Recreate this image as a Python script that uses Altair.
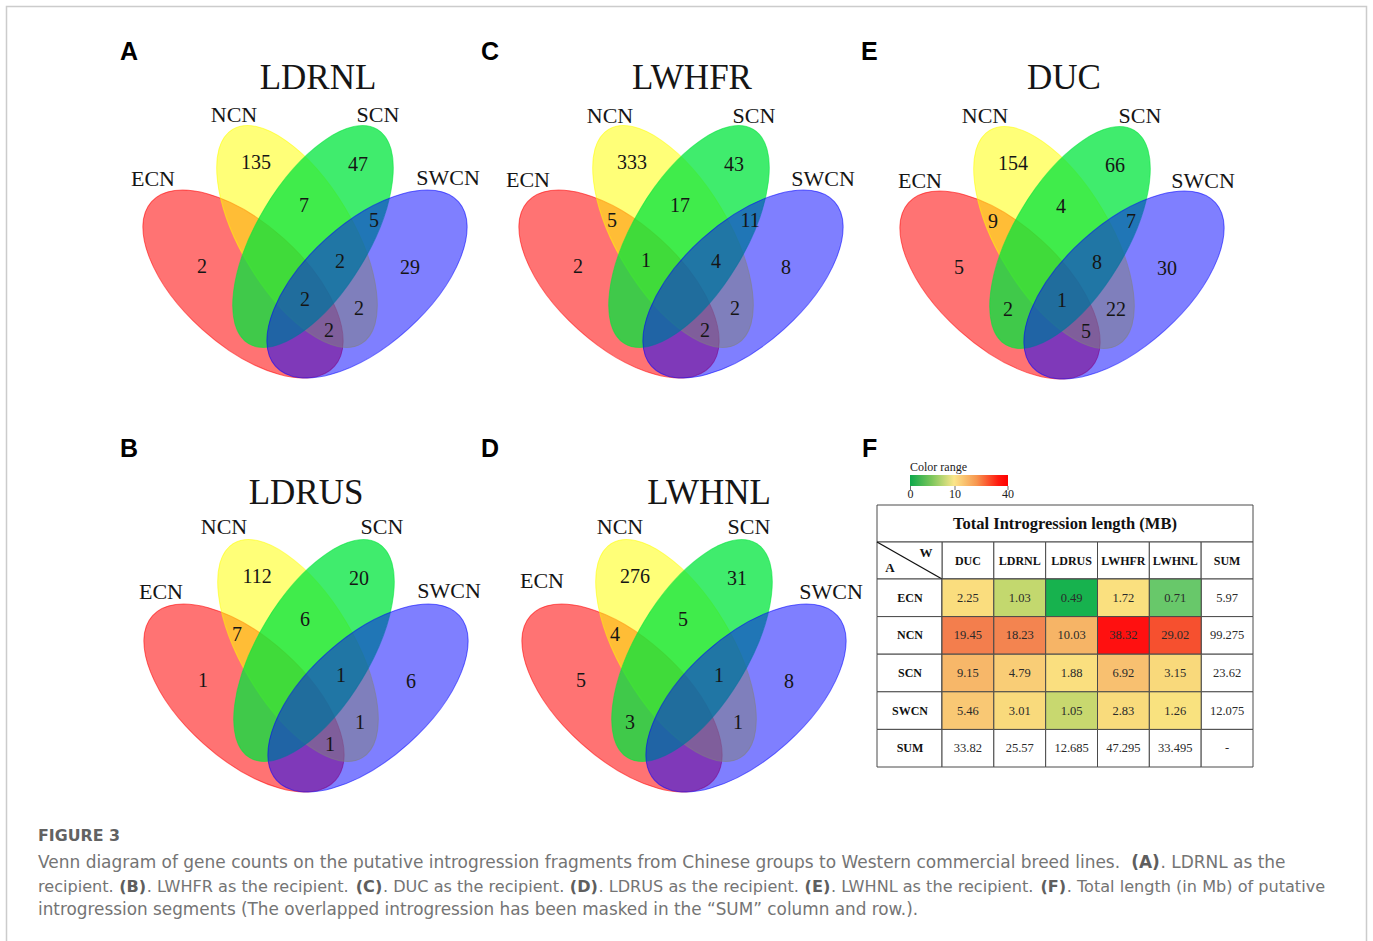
import altair as alt
import pandas as pd

W, H = 1373, 941

# ----------------------------- data -----------------------------
set_names = ["ECN", "NCN", "SCN", "SWCN"]
panel_ids = ["A", "C", "E", "B", "D"]
panel_titles = ["LDRNL", "LWHFR", "DUC", "LDRUS", "LWHNL"]

# region codes: E=ECN, N=NCN, S=SCN, W=SWCN (only the regions printed in the figure)
counts_A = {"E": 2, "N": 135, "S": 47, "W": 29, "NS": 7, "SW": 5, "NSW": 2, "ENSW": 2, "NW": 2, "ENW": 2}
counts_C = {"E": 2, "N": 333, "S": 43, "W": 8, "EN": 5, "NS": 17, "SW": 11, "ENS": 1, "NSW": 4, "NW": 2, "ENW": 2}
counts_E = {"E": 5, "N": 154, "S": 66, "W": 30, "EN": 9, "NS": 4, "SW": 7, "NSW": 8, "ES": 2, "ENSW": 1, "NW": 22, "ENW": 5}
counts_B = {"E": 1, "N": 112, "S": 20, "W": 6, "EN": 7, "NS": 6, "NSW": 1, "NW": 1, "ENW": 1}
counts_D = {"E": 5, "N": 276, "S": 31, "W": 8, "EN": 4, "NS": 5, "NSW": 1, "ES": 3, "NW": 1}
panel_counts = {"A": counts_A, "C": counts_C, "E": counts_E, "B": counts_B, "D": counts_D}

table_rows = ["ECN", "NCN", "SCN", "SWCN", "SUM"]
table_cols = ["DUC", "LDRNL", "LDRUS", "LWHFR", "LWHNL", "SUM"]
val_ECN = [2.25, 1.03, 0.49, 1.72, 0.71, 5.97]
val_NCN = [19.45, 18.23, 10.03, 38.32, 29.02, 99.275]
val_SCN = [9.15, 4.79, 1.88, 6.92, 3.15, 23.62]
val_SWCN = [5.46, 3.01, 1.05, 2.83, 1.26, 12.075]
val_SUM = [33.82, 25.57, 12.685, 47.295, 33.495, None]
table_vals = [val_ECN, val_NCN, val_SCN, val_SWCN, val_SUM]
legend_ticks = [0, 10, 40]

caption_head = "FIGURE 3"
# (text, bold) segments per caption line
caption_lines = [
    [("Venn diagram of gene counts on the putative introgression fragments from Chinese groups to Western commercial breed lines. ", False),
     ("(A)", True), (". LDRNL as the", False)],
    [("recipient. ", False), ("(B)", True), (". LWHFR as the recipient. ", False), ("(C)", True),
     (". DUC as the recipient. ", False), ("(D)", True), (". LDRUS as the recipient. ", False), ("(E)", True),
     (". LWHNL as the recipient. ", False), ("(F)", True), (". Total length (in Mb) of putative", False)],
    [("introgression segments (The overlapped introgression has been masked in the \u201cSUM\u201d column and row.).", False)],
]

# ----------------------------- layout / style -----------------------------
cap_left = 38
line_y = [867.5, 891.5, 914.5]
line_right = [1285, 1325, 923]
venn_origin = {"A": (305, 284), "C": (681, 284), "E": (1062, 285), "B": (306, 698), "D": (684, 698)}
# dx, dy, angle, shape kind
ellipse_geom = {"ECN": (-62, 0, 42, "outer"), "NCN": (-8, -47.5, 59, "inner"),
                "SCN": (8, -47.5, 301, "inner"), "SWCN": (62, 0, 318, "outer")}
set_colors = {"ECN": "#FF0000", "NCN": "#FFFF00", "SCN": "#00E63C", "SWCN": "#0000FF"}
set_alpha = {"ECN": 0.55, "NCN": 0.53, "SCN": 0.75, "SWCN": 0.5}
region_xy = {"E": (-103, -17), "N": (-49, -121), "S": (53, -119), "W": (105, -16),
             "EN": (-69, -63), "NS": (-1, -78), "SW": (69, -63), "ENS": (-35, -23),
             "NSW": (35, -22), "ES": (-54, 25), "NW": (54, 25), "ENSW": (0, 16),
             "ENW": (24, 47), "ESW": (-24, 47), "EW": (0, 76)}
set_label_xy = {"A": [(153, 179), (234, 115), (378, 115), (448, 178)],
                "C": [(528, 180), (610, 116), (754, 116), (823, 179)],
                "E": [(920, 181), (985, 116), (1140, 116), (1203, 181)],
                "B": [(161, 592), (224, 527), (382, 527), (449, 591)],
                "D": [(542, 581), (620, 527), (749, 527), (831, 592)]}
title_xy = {"A": (318, 78), "C": (692, 78), "E": (1064, 78), "B": (306, 493), "D": (709, 493)}
letter_xy = {"A": (120, 60), "C": (481, 60), "E": (861, 60), "B": (120, 457), "D": (481, 457), "F": (862, 457)}

heat_domain = [0.49, 0.71, 1.04, 1.26, 1.9, 3.0, 5.0, 7.0, 10.0, 19.0, 29.0, 38.32]
heat_range = ["#17B24E", "#68C86A", "#C6D86E", "#F9E27F", "#FADF7F", "#F9DA7C",
              "#F9CB75", "#F8C070", "#F6B466", "#F3804E", "#F6502F", "#FF1010"]

SERIF = "Liberation Serif"
CAP_FONT = "DejaVu Sans"
GRID = "#4a4a4a"

# approximate DejaVu Sans advance widths (em) used to flow the caption segments
_REG = {" ": .318, ".": .318, ",": .318, "(": .390, ")": .390, "\u201c": .521, "\u201d": .521, "-": .361,
        "a": .613, "b": .635, "c": .550, "d": .635, "e": .615, "f": .352, "g": .635, "h": .634, "i": .278,
        "j": .278, "k": .579, "l": .278, "m": .974, "n": .634, "o": .612, "p": .635, "q": .635, "r": .411,
        "s": .521, "t": .392, "u": .634, "v": .592, "w": .818, "x": .592, "y": .592, "z": .525,
        "A": .684, "B": .686, "C": .698, "D": .770, "E": .632, "F": .575, "G": .775, "H": .752, "I": .295,
        "L": .557, "M": .863, "N": .748, "R": .695, "S": .635, "T": .611, "U": .732, "V": .684, "W": .989}
_BOLD = {"(": .457, ")": .457, "A": .774, "B": .762, "C": .734, "D": .830, "E": .683, "F": .683}


def text_em(s, bold):
    tbl = _BOLD if bold else _REG
    return sum(tbl.get(ch, _REG.get(ch, 0.62) * (1.1 if bold else 1.0)) for ch in s)


def ellipse_path(a, b):
    k = 0.5523
    f = lambda v: f"{v:.4f}"
    return (f"M {f(a)} 0 C {f(a)} {f(k*b)} {f(k*a)} {f(b)} 0 {f(b)} "
            f"C {f(-k*a)} {f(b)} {f(-a)} {f(k*b)} {f(-a)} 0 "
            f"C {f(-a)} {f(-k*b)} {f(-k*a)} {f(-b)} 0 {f(-b)} "
            f"C {f(k*a)} {f(-b)} {f(a)} {f(-k*b)} {f(a)} 0 Z")


SHAPE_SCALE = 125.0
shape_paths = {"outer": ellipse_path(123 / SHAPE_SCALE, 61 / SHAPE_SCALE),
               "inner": ellipse_path(125 / SHAPE_SCALE, 56 / SHAPE_SCALE)}

XS = alt.Scale(domain=[0, W], range=[0, W], nice=False, zero=False)
YS = alt.Scale(domain=[0, H], range=[0, H], nice=False, zero=False)


def px(field):
    return alt.X(f"{field}:Q", scale=XS, axis=None)


def py(field):
    return alt.Y(f"{field}:Q", scale=YS, axis=None)


one = pd.DataFrame({"d": [0]})
layers = []

# frame
layers.append(alt.Chart(one).mark_rect(fill="white", stroke="#cccccc", strokeWidth=1.5).encode(
    x=alt.value(6.5), x2=alt.value(1366.5), y=alt.value(6.5), y2=alt.value(960)))

# ---------- Venn ellipses ----------
ell_rows = []
for pid in panel_ids:
    ox, oy = venn_origin[pid]
    for k, s in enumerate(set_names):
        dx, dy, ang, kind = ellipse_geom[s]
        ell_rows.append(dict(panel=pid, set=s, x=ox + dx, y=oy + dy, ang=ang, kind=kind, k=k))
df_ell = pd.DataFrame(ell_rows)

for s in set_names:
    kind = ellipse_geom[s][3]
    layers.append(
        alt.Chart(df_ell).transform_filter(alt.datum.set == s).mark_point(
            filled=True, shape=shape_paths[kind], size=SHAPE_SCALE ** 2 * 4,
            fillOpacity=set_alpha[s], strokeOpacity=0.55, strokeWidth=1,
        ).encode(
            x=px("x"), y=py("y"),
            fill=alt.Fill("set:N", scale=alt.Scale(domain=set_names, range=[set_colors[n] for n in set_names]), legend=None),
            stroke=alt.Stroke("set:N", scale=alt.Scale(domain=set_names, range=[set_colors[n] for n in set_names]), legend=None),
            angle=alt.Angle("ang:Q", scale=None),
        )
    )

# ---------- Venn counts ----------
cnt_rows = []
for pid in panel_ids:
    ox, oy = venn_origin[pid]
    for reg, c in panel_counts[pid].items():
        dx, dy = region_xy[reg]
        cnt_rows.append(dict(panel=pid, region=reg, count=str(c), x=ox + dx, y=oy + dy))
df_cnt = pd.DataFrame(cnt_rows)
layers.append(alt.Chart(df_cnt).mark_text(font=SERIF, fontSize=20, color="#151515", baseline="middle").encode(
    x=px("x"), y=py("y"), text="count:N"))

# set labels
lab_rows = []
for pid in panel_ids:
    for s, (x, y) in zip(set_names, set_label_xy[pid]):
        lab_rows.append(dict(panel=pid, label=s, x=x, y=y))
layers.append(alt.Chart(pd.DataFrame(lab_rows)).mark_text(font=SERIF, fontSize=22, color="#151515", baseline="middle").encode(
    x=px("x"), y=py("y"), text="label:N"))

# titles
tit_rows = [dict(panel=p, title=t, x=title_xy[p][0], y=title_xy[p][1]) for p, t in zip(panel_ids, panel_titles)]
layers.append(alt.Chart(pd.DataFrame(tit_rows)).mark_text(font=SERIF, fontSize=35, color="#151515", baseline="middle").encode(
    x=px("x"), y=py("y"), text="title:N"))

# panel letters
let_rows = [dict(letter=l, x=v[0], y=v[1]) for l, v in letter_xy.items()]
layers.append(alt.Chart(pd.DataFrame(let_rows)).mark_text(font="Liberation Sans", fontWeight="bold", fontSize=25,
                                                          color="#000000", align="left", baseline="alphabetic").encode(
    x=px("x"), y=py("y"), text="letter:N"))

# ---------- table F ----------
# colour-range legend
layers.append(alt.Chart(one).mark_text(font=SERIF, fontSize=12, color="#222", align="left", baseline="middle",
                                       text="Color range").encode(x=alt.value(910), y=alt.value(467)))
grad = alt.LinearGradient(gradient="linear", x1=0, x2=1, y1=0, y2=0, stops=[
    alt.GradientStop(offset=0, color="#0DA84A"),
    alt.GradientStop(offset=0.22, color="#7CC65C"),
    alt.GradientStop(offset=0.45, color="#FBE68A"),
    alt.GradientStop(offset=0.68, color="#F7964F"),
    alt.GradientStop(offset=0.9, color="#FF1A0F"),
    alt.GradientStop(offset=1, color="#FF0000")])
layers.append(alt.Chart(one).mark_rect(color=grad).encode(
    x=alt.value(910), x2=alt.value(1008), y=alt.value(475), y2=alt.value(486)))
LS = alt.Scale(domain=[0, 10, 40], range=[910.5, 955, 1008], zero=False, nice=False)
df_ticks = pd.DataFrame({"t": legend_ticks, "lab": [str(t) for t in legend_ticks]})
layers.append(alt.Chart(df_ticks).mark_tick(orient="vertical", color="#333", size=4, thickness=1).encode(
    x=alt.X("t:Q", scale=LS, axis=None), y=alt.value(488)))
layers.append(alt.Chart(df_ticks).mark_text(font=SERIF, fontSize=12, color="#222", baseline="middle").encode(
    x=alt.X("t:Q", scale=LS, axis=None), y=alt.value(494), text="lab:N"))

# title row
layers.append(alt.Chart(one).mark_rect(fill="white", stroke=GRID, strokeWidth=1).encode(
    x=alt.value(877), x2=alt.value(1253), y=alt.value(505), y2=alt.value(542)))
layers.append(alt.Chart(one).mark_text(font=SERIF, fontWeight="bold", fontSize=16.5, color="#111", baseline="middle",
                                       text="Total Introgression length (MB)").encode(x=alt.value(1065), y=alt.value(524)))

XB = alt.Scale(domain=table_cols, range=[942, 1253], paddingInner=0, paddingOuter=0)
YB = alt.Scale(domain=table_rows, range=[579, 767], paddingInner=0, paddingOuter=0)

# header row
df_cols = pd.DataFrame({"col": table_cols})
layers.append(alt.Chart(df_cols).mark_rect(fill="white", stroke=GRID, strokeWidth=1).encode(
    x=alt.X("col:N", scale=XB, axis=None), y=alt.value(542), y2=alt.value(579)))
layers.append(alt.Chart(df_cols).mark_text(font=SERIF, fontWeight="bold", fontSize=12, color="#111", baseline="middle").encode(
    x=alt.X("col:N", scale=XB, axis=None), y=alt.value(561), text="col:N"))
# corner cell
layers.append(alt.Chart(one).mark_rect(fill="white", stroke=GRID, strokeWidth=1).encode(
    x=alt.value(877), x2=alt.value(942), y=alt.value(542), y2=alt.value(579)))
layers.append(alt.Chart(one).mark_rule(color="#111", strokeWidth=1.3).encode(
    x=alt.value(877), x2=alt.value(942), y=alt.value(542), y2=alt.value(579)))
layers.append(alt.Chart(one).mark_text(font=SERIF, fontWeight="bold", fontSize=13, color="#111", baseline="middle",
                                       text="W").encode(x=alt.value(926), y=alt.value(553)))
layers.append(alt.Chart(one).mark_text(font=SERIF, fontWeight="bold", fontSize=13, color="#111", baseline="middle",
                                       text="A").encode(x=alt.value(890), y=alt.value(568)))

# row label column
df_rows = pd.DataFrame({"row": table_rows})
layers.append(alt.Chart(df_rows).mark_rect(fill="white", stroke=GRID, strokeWidth=1).encode(
    x=alt.value(877), x2=alt.value(942), y=alt.Y("row:N", scale=YB, axis=None)))
layers.append(alt.Chart(df_rows).mark_text(font=SERIF, fontWeight="bold", fontSize=12, color="#111", baseline="middle").encode(
    x=alt.value(910), y=alt.Y("row:N", scale=YB, axis=None), text="row:N"))

# data cells
cell_rows = []
for r, vals in zip(table_rows, table_vals):
    for c, v in zip(table_cols, vals):
        cell_rows.append(dict(row=r, col=c, value=v, label=("-" if v is None else str(v)),
                              heat=(r != "SUM" and c != "SUM")))
df_cells = pd.DataFrame(cell_rows)
layers.append(alt.Chart(df_cells).mark_rect(fill="white", stroke=GRID, strokeWidth=1).encode(
    x=alt.X("col:N", scale=XB, axis=None), y=alt.Y("row:N", scale=YB, axis=None)))
layers.append(alt.Chart(df_cells).transform_filter(alt.datum.heat).mark_rect(stroke=GRID, strokeWidth=1).encode(
    x=alt.X("col:N", scale=XB, axis=None), y=alt.Y("row:N", scale=YB, axis=None),
    fill=alt.Fill("value:Q", scale=alt.Scale(domain=heat_domain, range=heat_range, interpolate="rgb"), legend=None)))
layers.append(alt.Chart(df_cells).mark_text(font=SERIF, fontSize=12.5, color="#2a2a2a", baseline="middle").encode(
    x=alt.X("col:N", scale=XB, axis=None), y=alt.Y("row:N", scale=YB, axis=None), text="label:N"))

# ---------- caption ----------
layers.append(alt.Chart(one).mark_text(font=CAP_FONT, fontWeight="bold", fontSize=15.8, color="#626262", align="left",
                                       baseline="alphabetic", text=caption_head).encode(x=alt.value(cap_left), y=alt.value(841)))
seg_rows = []
for li, segs in enumerate(caption_lines):
    total = sum(text_em(t, b) for t, b in segs)
    fs = min(17.2, (line_right[li] - cap_left) / total)
    x = cap_left
    for t, b in segs:
        seg_rows.append(dict(t=t, bold=b, x=x, y=line_y[li], fs=fs))
        x += text_em(t, b) * fs + (0.6 if b else 0.0)
df_seg = pd.DataFrame(seg_rows)
layers.append(alt.Chart(df_seg).transform_filter(~alt.datum.bold).mark_text(
    font=CAP_FONT, color="#747474", align="left", baseline="alphabetic").encode(
    x=px("x"), y=py("y"), text="t:N", size=alt.Size("fs:Q", scale=None)))
layers.append(alt.Chart(df_seg).transform_filter(alt.datum.bold).mark_text(
    font=CAP_FONT, fontWeight="bold", color="#5e5e5e", align="left", baseline="alphabetic").encode(
    x=px("x"), y=py("y"), text="t:N", size=alt.Size("fs:Q", scale=None)))

chart = alt.layer(*layers).resolve_scale(
    x="independent", y="independent", fill="independent", stroke="independent"
).properties(
    width=W, height=H, padding=0, autosize=alt.AutoSizeParams(type="none"), background="white"
).configure_view(stroke=None)

chart.save("out.html", embed_options={"renderer": "svg", "actions": False})
